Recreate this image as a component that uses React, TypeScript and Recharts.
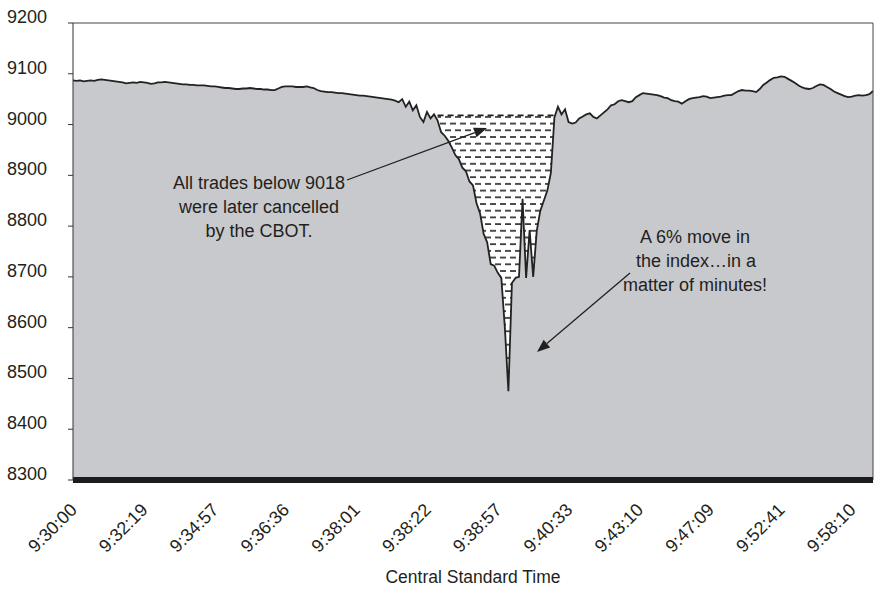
import { AreaChart, Area, Line, XAxis, YAxis, ReferenceLine } from 'recharts';

// index level, tick by tick (one value per trade print)
const indexValues = [
  9087, 9086, 9087, 9085, 9086, 9087, 9086, 9088, 9089, 9088,
  9087, 9086, 9085, 9084, 9083, 9081, 9082, 9083, 9082, 9084,
  9083, 9082, 9080, 9081, 9083, 9083, 9084, 9083, 9082, 9081,
  9080, 9079, 9079, 9078, 9078, 9077, 9077, 9077, 9076, 9075,
  9075, 9074, 9073, 9072, 9072, 9071, 9070, 9070, 9071, 9071,
  9072, 9071, 9070, 9070, 9069, 9069, 9068, 9068, 9071, 9074,
  9075, 9075, 9075, 9074, 9074, 9074, 9075, 9073, 9072, 9068,
  9066, 9065, 9064, 9064, 9063, 9062, 9062, 9061, 9060, 9059,
  9058, 9057, 9057, 9056, 9055, 9054, 9053, 9052, 9051, 9050,
  9049, 9047, 9044, 9050, 9035, 9045, 9028, 9038, 9015, 9005,
  9025, 9012, 9020, 9008, 8985, 8978, 8968, 8955, 8940, 8932,
  8915, 8908, 8888, 8880, 8845, 8825, 8785, 8768, 8725, 8722,
  8708, 8698, 8600, 8475, 8688, 8698, 8700, 8854, 8698, 8792,
  8700, 8790, 8830, 8850, 8870, 8905, 9014, 9035, 9020, 9030,
  9005, 9002, 9004, 9012, 9016, 9020, 9022, 9015, 9012, 9018,
  9024, 9030, 9038, 9040, 9046, 9048, 9046, 9044, 9046, 9054,
  9058, 9062, 9061, 9060, 9059, 9058, 9056, 9053, 9052, 9048,
  9046, 9045, 9041, 9046, 9050, 9052, 9053, 9054, 9056, 9055,
  9052, 9053, 9054, 9055, 9057, 9058, 9058, 9062, 9066, 9068,
  9067, 9067, 9066, 9064, 9070, 9078, 9083, 9088, 9092, 9093,
  9095, 9094, 9090, 9086, 9082, 9077, 9073, 9071, 9070, 9072,
  9076, 9079, 9078, 9074, 9070, 9065, 9062, 9059, 9056, 9054,
  9055, 9057, 9058, 9057, 9058, 9060, 9066,
];

const timeLabels = [
  '9:30:00', '9:32:19', '9:34:57', '9:36:36', '9:38:01', '9:38:22',
  '9:38:57', '9:40:33', '9:43:10', '9:47:09', '9:52:41', '9:58:10',
];
const labelEvery = 20; // prints between labelled times

const yTicks = [8300, 8400, 8500, 8600, 8700, 8800, 8900, 9000, 9100, 9200];

// trades below this level inside the window were cancelled
const cancelLevel = 9018;
const cancelWindow = [103, 136];

const FONT = '"Liberation Sans", Arial, Helvetica, sans-serif';
const INK = '#231f20';

const data = indexValues.map((v, i) => {
  const inWindow = i >= cancelWindow[0] && i <= cancelWindow[1];
  return {
    i,
    v,
    hatch: inWindow ? [Math.min(v, cancelLevel), cancelLevel] : null,
    cap: inWindow ? cancelLevel : null,
  };
});

const lastIdx = indexValues.length - 1;
const xTicks = timeLabels.map((_, k) => k * labelEvery);

const TimeTick = ({ x, y, payload }: any) => {
  const label = timeLabels[xTicks.indexOf(payload.value)];
  const ax = x + 5;
  return (
    <text
      x={ax}
      y={y}
      transform={`rotate(-45 ${ax} ${y})`}
      textAnchor="end"
      fontSize={18}
      fontFamily={FONT}
      fill={INK}
    >
      {label}
    </text>
  );
};

const LevelTick = ({ x, y, payload }: any) => (
  <text x={x} y={y} textAnchor="end" fontSize={18} fontFamily={FONT} fill={INK}>
    {payload.value}
  </text>
);

function Arrow({ from, to }: { from: [number, number]; to: [number, number] }) {
  const dx = to[0] - from[0];
  const dy = to[1] - from[1];
  const len = Math.hypot(dx, dy);
  const ux = dx / len;
  const uy = dy / len;
  const head = 13;
  const half = 5;
  const bx = to[0] - ux * head;
  const by = to[1] - uy * head;
  const pts = `${to[0]},${to[1]} ${bx - uy * half},${by + ux * half} ${bx + uy * half},${by - ux * half}`;
  return (
    <g>
      <line x1={from[0]} y1={from[1]} x2={bx} y2={by} stroke={INK} strokeWidth={1.3} />
      <polygon points={pts} fill={INK} />
    </g>
  );
}

export default function App() {
  return (
    <div style={{ position: 'absolute', left: 0, top: 0, width: 875, height: 592, background: '#fff' }}>
      <AreaChart width={875} height={592} data={data} margin={{ top: 23, right: 2, bottom: 0, left: 0 }}>
        <defs>
          <pattern id="hatch" patternUnits="userSpaceOnUse" width={10} height={13.4} y={2}>
            <rect width={10} height={13.4} fill="#fff" />
            <line x1={0} y1={1} x2={6} y2={1} stroke="#222" strokeWidth={1.6} />
            <line x1={5} y1={7.7} x2={11} y2={7.7} stroke="#222" strokeWidth={1.6} />
            <line x1={-5} y1={7.7} x2={1} y2={7.7} stroke="#222" strokeWidth={1.6} />
          </pattern>
        </defs>
        <XAxis
          type="number"
          dataKey="i"
          domain={[0, lastIdx]}
          ticks={xTicks}
          interval={0}
          height={112}
          tickLine={false}
          tickSize={0}
          tickMargin={31}
          axisLine={{ stroke: '#1c1c1c', strokeWidth: 6 }}
          tick={<TimeTick />}
        />
        <YAxis
          type="number"
          domain={[8300, 9200]}
          ticks={yTicks}
          interval={0}
          width={73}
          tickSize={5}
          tickMargin={21}
          tickLine={{ stroke: '#333' }}
          axisLine={{ stroke: '#333' }}
          tick={<LevelTick />}
        />
        <Area
          type="linear"
          dataKey="v"
          stroke="none"
          fill="#c8c9cc"
          fillOpacity={1}
          isAnimationActive={false}
        />
        <Area
          type="linear"
          dataKey="hatch"
          stroke="none"
          fill="url(#hatch)"
          fillOpacity={1}
          isAnimationActive={false}
        />
        <Line
          type="linear"
          dataKey="cap"
          stroke="#222"
          strokeWidth={1.6}
          strokeDasharray="6 4"
          dot={false}
          isAnimationActive={false}
        />
        <Line
          type="linear"
          dataKey="v"
          stroke="#222"
          strokeWidth={1.8}
          dot={false}
          isAnimationActive={false}
        />
        <ReferenceLine y={9200} stroke="#444" strokeWidth={1} />
        <ReferenceLine x={lastIdx} stroke="#444" strokeWidth={1} />
      </AreaChart>
      <svg
        width={875}
        height={592}
        style={{ position: 'absolute', left: 0, top: 0, pointerEvents: 'none' }}
        fontFamily={FONT}
        fill={INK}
      >
        <text x={259} y={189} fontSize={18} textAnchor="middle">All trades below 9018</text>
        <text x={259} y={213} fontSize={18} textAnchor="middle">were later cancelled</text>
        <text x={259} y={237} fontSize={18} textAnchor="middle">by the CBOT.</text>
        <Arrow from={[347, 180]} to={[487, 128]} />
        <text x={695} y={243} fontSize={18} textAnchor="middle">A 6% move in</text>
        <text x={696} y={267} fontSize={18} textAnchor="middle">the index…in a</text>
        <text x={695} y={291} fontSize={18} textAnchor="middle">matter of minutes!</text>
        <Arrow from={[630, 273]} to={[537, 352]} />
        <text x={473} y={583} fontSize={17.5} textAnchor="middle">Central Standard Time</text>
      </svg>
    </div>
  );
}
